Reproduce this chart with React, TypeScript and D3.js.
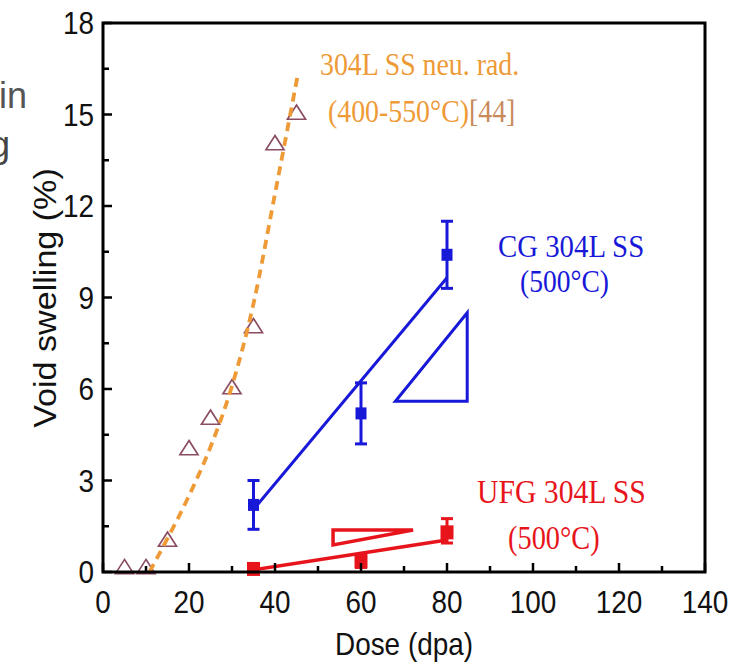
import React from "react";
import * as d3 from "d3";

// ---- data ----
const neuDose = [5, 10, 15, 20, 25, 30, 35, 40, 45];
const neuSwelling = [0.1, 0.1, 1.0, 4.0, 5.0, 6.0, 8.0, 14.0, 15.0];
const neuFitDose = [10.8, 15, 20, 25, 30, 35, 40, 45.3];
const neuFitSwelling = [0, 1.1, 2.5, 4.1, 6.1, 8.8, 12.4, 16.3];

const cgDose = [35, 60, 80];
const cgSwelling = [2.2, 5.2, 10.4];
const cgErrLow = [1.4, 4.2, 9.3];
const cgErrHigh = [3.0, 6.2, 11.5];
const cgFitDose = [35, 80];
const cgFitSwelling = [2.05, 9.65];
const cgSlopeTri = [[68, 5.6], [84.7, 5.6], [84.7, 8.5]];

const ufgDose = [35, 60, 80];
const ufgSwelling = [0.1, 0.35, 1.3];
const ufgErrLow = [0.0, 0.15, 0.95];
const ufgErrHigh = [0.2, 0.55, 1.75];
const ufgFitDose = [35, 80];
const ufgFitSwelling = [0.07, 1.05];
const ufgSlopeTri = [[53.5, 1.38], [72.1, 1.38], [53.5, 0.89]];

const xMajorTicks = [0, 20, 40, 60, 80, 100, 120, 140];
const xMinorTicks = [10, 30, 50, 70, 90, 110, 130];
const yMajorTicks = [0, 3, 6, 9, 12, 15, 18];
const yMinorTicks = [1.5, 4.5, 7.5, 10.5, 13.5, 16.5];

const xTitle = "Dose (dpa)";
const yTitle = "Void swelling (%)";

const BLUE = "#1818d8";
const RED = "#e8141c";
const ORANGE = "#ee9a36";
const TRI = "#8a4c62";

const SANS = "Arial, 'Liberation Sans', Helvetica, sans-serif";
const SERIF = "'Times New Roman', 'Liberation Serif', Times, serif";

function CText(props: {
  x: number; y: number; sx?: number; size: number; fill: string; family: string;
  anchor?: string; rotate?: number; children: React.ReactNode;
}) {
  const { x, y, sx = 0.88, size, fill, family, anchor = "start", rotate = 0, children } = props;
  return (
    <text
      transform={`translate(${x},${y}) rotate(${rotate}) scale(${sx},1)`}
      fontSize={size}
      fill={fill}
      fontFamily={family}
      textAnchor={anchor}
    >
      {children}
    </text>
  );
}

export default function App() {
  const x = d3.scaleLinear().domain([0, 140]).range([103, 705]);
  const y = d3.scaleLinear().domain([0, 18]).range([572, 23]);

  const neuFit = d3
    .line<[number, number]>()
    .x((d) => x(d[0]))
    .y((d) => y(d[1]))
    .curve(d3.curveMonotoneX)(neuFitDose.map((d, i) => [d, neuFitSwelling[i]] as [number, number]));

  const straight = d3
    .line<[number, number]>()
    .x((d) => x(d[0]))
    .y((d) => y(d[1]));

  const cgFit = straight(cgFitDose.map((d, i) => [d, cgFitSwelling[i]] as [number, number]));
  const ufgFit = straight(ufgFitDose.map((d, i) => [d, ufgFitSwelling[i]] as [number, number]));
  const cgTri = straight(cgSlopeTri as [number, number][]) + "Z";
  const ufgTri = straight(ufgSlopeTri as [number, number][]) + "Z";

  const triPath = d3.symbol(d3.symbolTriangle, 130)();

  const errorBars = (
    dose: number[], lo: number[], hi: number[], val: number[], color: string, key: string, sq: number
  ) =>
    dose.map((d, i) => {
      const cx = x(d);
      return (
        <g key={key + i}>
          <line x1={cx} x2={cx} y1={y(lo[i])} y2={y(hi[i])} stroke={color} strokeWidth={3} />
          <line x1={cx - 6} x2={cx + 6} y1={y(lo[i])} y2={y(lo[i])} stroke={color} strokeWidth={3} />
          <line x1={cx - 6} x2={cx + 6} y1={y(hi[i])} y2={y(hi[i])} stroke={color} strokeWidth={3} />
          <rect x={cx - sq / 2} y={y(val[i]) - sq / 2 - 0.5} width={sq} height={sq + 1} fill={color} />
        </g>
      );
    });

  return (
    <svg
      width={744}
      height={672}
      style={{ position: "absolute", left: 0, top: 0, background: "#fff" }}
    >
      <rect x={0} y={0} width={744} height={672} fill="#fff" />
      {/* cropped overlay text at the left edge */}
      <text x={-1} y={108} fontSize={36} fill="#555" fontFamily={SANS}>in</text>
      <text x={-10} y={157} fontSize={36} fill="#444" fontFamily={SANS}>g</text>

      {/* neutron data */}
      {neuDose.map((d, i) => (
        <path
          key={"t" + i}
          d={triPath || ""}
          transform={`translate(${x(d)},${y(neuSwelling[i])}) scale(1.05,0.95)`}
          fill="none"
          stroke={TRI}
          strokeWidth={1.6}
        />
      ))}
      <path d={neuFit || ""} fill="none" stroke={ORANGE} strokeWidth={3.8} strokeDasharray="9,6" />

      {/* CG */}
      <path d={cgFit || ""} fill="none" stroke={BLUE} strokeWidth={3} />
      <path d={cgTri} fill="none" stroke={BLUE} strokeWidth={3} />
      {errorBars(cgDose, cgErrLow, cgErrHigh, cgSwelling, BLUE, "cg", 11)}

      {/* UFG */}
      <path d={ufgFit || ""} fill="none" stroke={RED} strokeWidth={3.5} />
      <path d={ufgTri} fill="none" stroke={RED} strokeWidth={3.5} />
      {errorBars(ufgDose, ufgErrLow, ufgErrHigh, ufgSwelling, RED, "ufg", 13)}

      {/* frame */}
      <rect x={103} y={23} width={602} height={549} fill="none" stroke="#000" strokeWidth={3} />

      {/* x ticks */}
      {xMajorTicks.map((t) => (
        <g key={"xm" + t}>
          <line x1={x(t)} x2={x(t)} y1={572} y2={563} stroke="#000" strokeWidth={2.5} />
          <text transform={`translate(${x(t)},613) scale(0.9,1)`}
            textAnchor="middle" fontSize={31} fontFamily={SANS} fill="#111">{t}</text>
        </g>
      ))}
      {xMinorTicks.map((t) => (
        <line key={"xn" + t} x1={x(t)} x2={x(t)} y1={572} y2={566} stroke="#000" strokeWidth={2.5} />
      ))}

      {/* y ticks */}
      {yMajorTicks.map((t) => (
        <g key={"ym" + t}>
          <line x1={103} x2={112} y1={y(t)} y2={y(t)} stroke="#000" strokeWidth={2.5} />
          <text transform={`translate(94,${y(t) + 11}) scale(0.9,1)`}
            textAnchor="end" fontSize={31} fontFamily={SANS} fill="#111">{t}</text>
        </g>
      ))}
      {yMinorTicks.map((t) => (
        <line key={"yn" + t} x1={103} x2={109} y1={y(t)} y2={y(t)} stroke="#000" strokeWidth={2.5} />
      ))}

      {/* axis titles */}
      <CText x={404} y={655} size={31} sx={0.9} fill="#111" family={SANS} anchor="middle">{xTitle}</CText>
      <CText x={56} y={298} size={31} sx={1.1} fill="#111" family={SANS} anchor="middle" rotate={-90}>{yTitle}</CText>

      {/* annotations */}
      <CText x={320} y={75} size={32} sx={0.87} fill={ORANGE} family={SERIF}>304L SS neu. rad.</CText>
      <CText x={328} y={122} size={32} sx={0.87} fill={ORANGE} family={SERIF}>
        (400-550°C)<tspan fill="#c98a5a">[44]</tspan>
      </CText>

      <CText x={498} y={257} size={32} sx={0.9} fill={BLUE} family={SERIF}>CG 304L SS</CText>
      <CText x={520} y={292} size={32} sx={0.86} fill={BLUE} family={SERIF}>(500°C)</CText>

      <CText x={477} y={503} size={33} sx={0.9} fill={RED} family={SERIF}>UFG 304L SS</CText>
      <CText x={508} y={549} size={33} sx={0.86} fill={RED} family={SERIF}>(500°C)</CText>
    </svg>
  );
}
